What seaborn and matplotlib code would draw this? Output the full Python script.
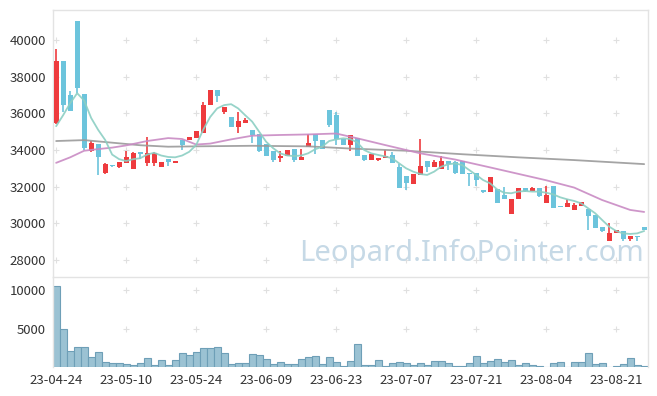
import numpy as np
import pandas as pd
import seaborn as sns
import matplotlib.pyplot as plt

# ------------------------------------------------
# Data, one candle per trading day
open_p = [35500, 38850, 37000, 41050, 37050, 33950, 34350, 32750, 33200, 33050,
          33300, 32950, 33900, 33300, 33300, 33050, 33500, 33300, 34550, 34550,
          34650, 34950, 36450, 37250, 36100, 35800, 35250, 35500, 35100, 34850,
          34350, 33950, 33550, 33650, 34050, 33450, 34150, 34900, 34550, 36200,
          35900, 34600, 34250, 34650, 33750, 33450, 33450, 33550, 33750, 33050,
          32600, 32150, 32650, 33400, 33050, 32950, 33400, 33350, 33400, 32750,
          32750, 31800, 31700, 31850, 31550, 30500, 31300, 31900, 31750, 31950,
          31100, 32050, 30950, 30900, 30750, 30950, 30800, 30450, 29800, 29050,
          29450, 29600, 29150, 29300, 29800]
high_p = [39500, 38850, 37200, 41050, 37050, 34500, 34350, 33300, 33200, 33350,
          33950, 33900, 33900, 34700, 33900, 33350, 33500, 33400, 34550, 34700,
          35050, 36600, 37250, 37250, 36350, 35800, 36050, 35750, 35100, 34850,
          34350, 33950, 33950, 34000, 34050, 34050, 34850, 34900, 34550, 36200,
          36050, 34600, 34800, 34650, 33750, 33800, 33550, 34000, 33900, 33250,
          32600, 32700, 34600, 33400, 33450, 33700, 33400, 33400, 33400, 32750,
          32750, 31800, 32500, 31850, 32000, 31300, 31950, 31900, 32000, 31950,
          32050, 32050, 30950, 31300, 31100, 31150, 30800, 30450, 29800, 30000,
          29650, 29600, 29300, 29300, 29800]
low_p = [35400, 36050, 36150, 37100, 34000, 33900, 32650, 32700, 33050, 33000,
         33300, 32950, 33500, 33150, 33100, 33050, 33100, 33300, 34000, 34550,
         34650, 34950, 36450, 36600, 35950, 35250, 34950, 35500, 34400, 33900,
         33650, 33350, 33350, 33650, 33350, 33450, 34150, 33800, 34050, 35250,
         34250, 34250, 33950, 33700, 33400, 33450, 33400, 33550, 33300, 31900,
         31800, 32150, 32650, 32800, 33050, 32950, 32900, 32700, 32700, 32050,
         32050, 31650, 31700, 31100, 31300, 30500, 31300, 31700, 31750, 31450,
         31100, 30850, 30900, 30900, 30750, 30950, 29650, 29750, 29500, 29050,
         29450, 29050, 29050, 29050, 29650]
close_p = [38850, 36450, 36150, 37400, 34100, 34400, 33600, 33250, 33150, 33350,
           33600, 33850, 33800, 33850, 33850, 33350, 33350, 33400, 34250, 34700,
           35050, 36450, 37250, 36950, 36350, 35250, 35600, 35650, 34800, 33950,
           33650, 33450, 33650, 34000, 33450, 33600, 34400, 34500, 34050, 35350,
           34600, 34250, 34800, 33700, 33450, 33800, 33550, 33700, 33300, 31900,
           32200, 32700, 33150, 33050, 33350, 33400, 33250, 32750, 32700, 32700,
           32350, 31700, 32500, 31100, 31300, 31300, 31900, 31750, 31950, 31500,
           31550, 30850, 30900, 31100, 31000, 31150, 30400, 29750, 29600, 29450,
           29650, 29150, 29300, 29250, 29650]
volume = [10500, 4900, 2100, 2600, 2600, 1300, 2000, 700, 500, 500,
          400, 250, 500, 1150, 250, 950, 250, 950, 1850, 1600,
          2000, 2500, 2500, 2600, 1850, 400, 550, 550, 1700, 1600,
          1100, 400, 700, 400, 400, 1100, 1350, 1450, 400, 1300,
          650, 100, 800, 3000, 250, 250, 950, 150, 500, 650,
          500, 250, 500, 250, 800, 800, 500, 150, 150, 500,
          1400, 500, 800, 1050, 650, 900, 250, 500, 250, 150,
          50, 500, 650, 50, 650, 650, 1800, 400, 500, 50,
          150, 400, 1150, 250, 150]

# moving averages (5 / 20 / 60 day)
ma5 = [35300, 35900, 36550, 37100, 36700, 35750, 35100, 34550, 33750, 33500,
       33400, 33500, 33550, 33750, 33850, 33700, 33620, 33600, 33700, 33900,
       34270, 35100, 35800, 36270, 36450, 36500, 36270, 35900, 35550, 35000,
       34450, 34100, 33820, 33700, 33670, 33700, 33820, 34040, 34180, 34490,
       34580, 34640, 34600, 34420, 34000, 33820, 33730, 33650, 33550, 33270,
       33000, 32820, 32690, 32640, 32820, 33090, 33220, 33270, 33180, 32910,
       32640, 32360, 32180, 31850, 31670, 31640, 31730, 31760, 31730, 31730,
       31670, 31580, 31420, 31310, 31220, 31090, 30820, 30550, 30180, 29820,
       29580, 29450, 29420, 29450, 29580]
ma20_x = [0, 2, 4, 6, 8, 10, 13, 16, 18, 20, 22, 25, 28, 32, 36, 40, 43, 47,
          52, 57, 62, 66, 70, 74, 78, 82, 84]
ma20 = [33300, 33600, 33960, 34050, 34130, 34250, 34490, 34650, 34600, 34300,
        34350, 34580, 34780, 34820, 34850, 34900, 34640, 34270, 33820, 33480,
        33050, 32700, 32350, 31950, 31270, 30730, 30620]
ma60_x = [0, 4, 8, 12, 16, 20, 28, 36, 42, 50, 58, 66, 74, 84]
ma60 = [34490, 34540, 34400, 34260, 34180, 34200, 34230, 34200, 34080, 33960,
        33770, 33600, 33450, 33230]

tick_labels = ['23-04-24', '23-05-10', '23-05-24', '23-06-09', '23-06-23',
               '23-07-07', '23-07-21', '23-08-04', '23-08-21']
price_ticks = [28000, 30000, 32000, 34000, 36000, 38000, 40000]
vol_ticks = [5000, 10000]

# ------------------------------------------------
# Figure

sns.set_theme(style='white')
plt.rcParams['font.family'] = ['Noto Sans CJK KR', 'DejaVu Sans']

df = pd.DataFrame({'open': open_p, 'high': high_p, 'low': low_p,
                   'close': close_p, 'volume': volume})
df['idx'] = np.arange(len(df))
up = df['close'] >= df['open']
colors = np.where(up, '#EE3B3E', '#6CC4DC')

fig = plt.figure(figsize=(6.57, 3.96), dpi=100)
ax = fig.add_axes([53 / 657, 1 - 277 / 396, 595 / 657, 267 / 396])
axv = fig.add_axes([53 / 657, 1 - 367 / 396, 595 / 657, 90 / 396], sharex=ax)

tick_pos = list(range(0, 81, 10))

# grid as small plus marks
gx, gy = np.meshgrid(tick_pos, price_ticks)
ax.scatter(gx.ravel(), gy.ravel(), marker='+', s=22, color='#E0E0E0',
           linewidths=0.8, zorder=0)
gx, gy = np.meshgrid(tick_pos, vol_ticks)
axv.scatter(gx.ravel(), gy.ravel(), marker='+', s=22, color='#E0E0E0',
            linewidths=0.8, zorder=0)

ax.text(0.703, 0.088, 'Leopard.InfoPointer.com', transform=ax.transAxes,
        ha='center', va='center', fontsize=21, color='#C6D9E6',
        family=['Noto Sans', 'DejaVu Sans'], zorder=1)

# candles
body = (df['close'] - df['open']).abs().clip(lower=45)
bottom = df[['open', 'close']].min(axis=1)
ax.vlines(df['idx'], df['low'], df['high'], colors=colors, lw=1.2, zorder=2)
ax.bar(df['idx'], body, bottom=bottom, width=0.72, color=colors,
       linewidth=0, zorder=3)

# moving averages
sns.lineplot(x=ma60_x, y=ma60, ax=ax, color='#9A9A9A', lw=1.3, alpha=0.9, zorder=4)
sns.lineplot(x=ma20_x, y=ma20, ax=ax, color='#C98BC4', lw=1.3, alpha=0.9, zorder=4)
sns.lineplot(x=df['idx'], y=ma5, ax=ax, color='#8CCFC3', lw=1.3, alpha=0.9, zorder=4)

ax.set_xlim(-0.45, 84.55)
ax.set_ylim(27070, 41640)
ax.set_yticks(price_ticks)
ax.set_yticklabels([str(v) for v in price_ticks])
ax.tick_params(axis='x', labelbottom=False, length=0)
ax.tick_params(axis='y', length=0, labelsize=9.5, colors='#333333', pad=5)
ax.set_xlabel('')
ax.set_ylabel('')

# volume
sns.barplot(x=df['idx'], y=df['volume'], ax=axv, native_scale=True, width=1.0,
            color='#9BC2D3', edgecolor='#6E9FB7', linewidth=0.8,
            saturation=1, errorbar=None, zorder=2)
axv.set_xlim(-0.45, 84.55)
axv.set_ylim(0, 11700)
axv.set_yticks(vol_ticks)
axv.set_yticklabels([str(v) for v in vol_ticks])
axv.set_xticks(tick_pos)
axv.set_xticklabels(tick_labels)
axv.tick_params(length=0, labelsize=9.5, colors='#333333', pad=5)
axv.set_xlabel('')
axv.set_ylabel('')

for a in (ax, axv):
    for side in ('top', 'left', 'right'):
        a.spines[side].set_color('#E3E3E3')
        a.spines[side].set_linewidth(1.0)
    a.spines['bottom'].set_visible(False)

fig.savefig('out.png', dpi=100)
